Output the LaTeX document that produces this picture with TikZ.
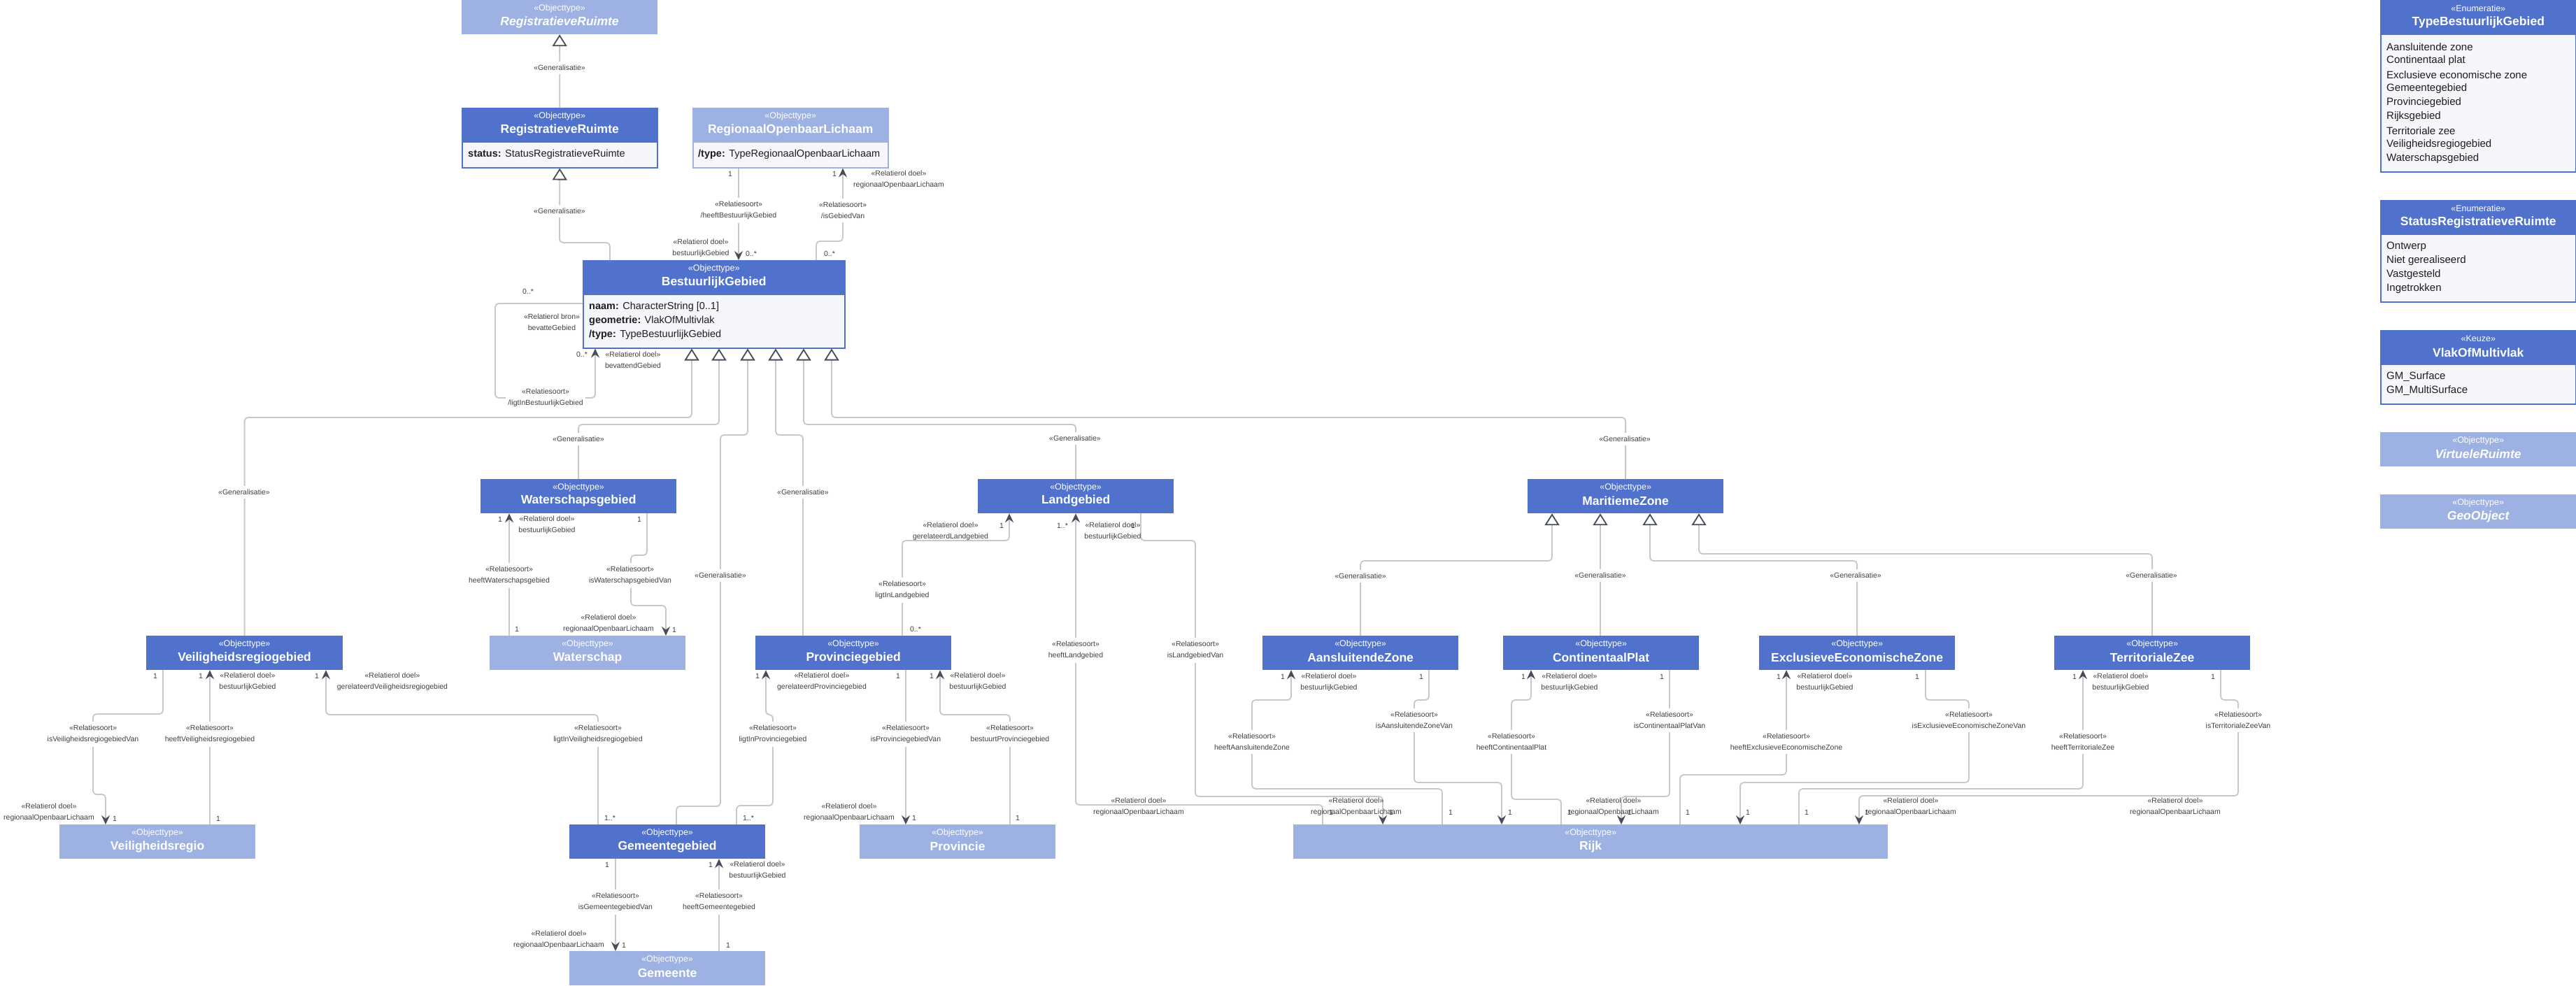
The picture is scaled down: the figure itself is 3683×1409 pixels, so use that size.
\documentclass[tikz,border=0pt]{standalone}
\usepackage{fontspec}
\setmainfont{Liberation Sans}
\usetikzlibrary{arrows.meta}
\definecolor{hdr}{HTML}{5072CC}
\definecolor{lt}{HTML}{9DB1E3}
\definecolor{bodyc}{HTML}{F4F6FC}
\definecolor{linec}{HTML}{C8C8C8}
\definecolor{tipc}{HTML}{474D5B}
\definecolor{lblc}{HTML}{404040}
\definecolor{attc}{HTML}{1E1E1E}
\newcommand\lblfont{\fontsize{10.5pt}{16pt}\selectfont}
\newcommand\stfont{\fontsize{12.5pt}{15pt}\selectfont}
\newcommand\ttlfont{\fontsize{17.5pt}{21pt}\selectfont\bfseries}
\newcommand\attfont{\fontsize{14.5pt}{20pt}\selectfont}
\newcommand\enfont{\fontsize{15pt}{20pt}\selectfont}
% simple box: name, style, x1, y1, width, stereotype, title
\newcommand\obox[7]{%
  \node[#2, anchor=north west, minimum width=#5pt, minimum height=48pt] (#1) at (#3,#4) {};
  \node[sttext] (#1-s) at ([yshift=-12.5pt]#1.north) {#6};
  \node[tttext] (#1-t) at ([yshift=-31.5pt]#1.north) {#7};
}
% box with body: name, headerstyle, bodystyle, x1, y1, width, height, headerheight, stereotype, title
\newcommand\abox[9]{%
  \node[#3, anchor=north west, minimum width=#6pt, minimum height=#7pt] (#1) at (#4,#5) {};
  \node[#2, anchor=north west, minimum width=#6pt, minimum height=49pt] (#1-h) at (#1.north west) {};
  \node[sttext] (#1-s) at ([yshift=-12.5pt]#1.north) {#8};
  \node[tttext] (#1-t) at ([yshift=-32pt]#1.north) {#9};
}
\begin{document}
\begin{tikzpicture}[x=1pt,y=-1pt,
  hdrbox/.style={fill=hdr, draw=hdr, line width=1.2pt, inner sep=0pt},
  ltbox/.style={fill=lt, draw=lt, line width=1.2pt, inner sep=0pt},
  bodybox/.style={fill=bodyc, draw=hdr, line width=1.5pt, inner sep=0pt},
  ltbody/.style={fill=bodyc, draw=lt, line width=1.5pt, inner sep=0pt},
  sttext/.style={font=\stfont, text=white, inner sep=0pt},
  tttext/.style={font=\ttlfont, text=white, inner sep=0pt},
  att/.style={font=\attfont, text=attc, anchor=west, inner sep=0pt},
  enit/.style={font=\enfont, text=attc, anchor=west, inner sep=0pt},
  conn/.style={draw=linec, line width=1.8pt, rounded corners=5pt},
  assoc/.style={conn, -{Stealth[length=13pt,width=12pt,inset=4.5pt,color=tipc]}},
  gen/.style={conn, -{Triangle[open,length=17pt,width=21pt,line width=1.8pt,color=tipc,fill=white]}},
  lbl/.style={font=\lblfont, text=lblc, align=center, inner sep=0pt},
  rsl/.style={lbl, fill=white, inner xsep=3pt, inner ysep=5pt},
  gl/.style={lbl, fill=white, inner xsep=3pt, inner ysep=5pt},
  mult/.style={font=\lblfont, text=lblc, inner sep=0pt}]
\useasboundingbox (0,0) rectangle (3683,1409);
\fill[white] (0,0) rectangle (3683,1409);

% ---------- boxes ----------
\obox{rra}{ltbox}{660}{0}{279}{«Objecttype»}{\itshape RegistratieveRuimte}
\abox{rr}{hdrbox}{bodybox}{660}{154}{279}{85}{«Objecttype»}{RegistratieveRuimte}
\node[att] (rr-a1) at (669,221) {\textbf{status:} StatusRegistratieveRuimte};
\abox{rol}{ltbox}{ltbody}{990}{154}{279}{85}{«Objecttype»}{RegionaalOpenbaarLichaam}
\node[att] (rol-a1) at (998,221) {\textbf{/type:} TypeRegionaalOpenbaarLichaam};
\abox{bg}{hdrbox}{bodybox}{833}{372}{374}{125}{«Objecttype»}{BestuurlijkGebied}
\node[att] (bg-a1) at (842,439) {\textbf{naam:} CharacterString [0..1]};
\node[att] (bg-a2) at (842,459) {\textbf{geometrie:} VlakOfMultivlak};
\node[att] (bg-a3) at (842,479) {\textbf{/type:} TypeBestuurlijkGebied};

\obox{wsg}{hdrbox}{687}{685}{279}{«Objecttype»}{Waterschapsgebied}
\obox{lg}{hdrbox}{1398}{685}{279}{«Objecttype»}{Landgebied}
\obox{mz}{hdrbox}{2184}{685}{279}{«Objecttype»}{MaritiemeZone}
\obox{vrg}{hdrbox}{209}{909}{280}{«Objecttype»}{Veiligheidsregiogebied}
\obox{ws}{ltbox}{700}{909}{279}{«Objecttype»}{Waterschap}
\obox{pg}{hdrbox}{1080}{909}{279}{«Objecttype»}{Provinciegebied}
\obox{az}{hdrbox}{1805}{909}{279}{«Objecttype»}{AansluitendeZone}
\obox{cp}{hdrbox}{2149}{909}{279}{«Objecttype»}{ContinentaalPlat}
\obox{eez}{hdrbox}{2515}{909}{279}{«Objecttype»}{ExclusieveEconomischeZone}
\obox{tz}{hdrbox}{2937}{909}{279}{«Objecttype»}{TerritorialeZee}
\obox{vr}{ltbox}{85}{1179}{279}{«Objecttype»}{Veiligheidsregio}
\obox{gg}{hdrbox}{814}{1179}{279}{«Objecttype»}{Gemeentegebied}
\obox{prov}{ltbox}{1229}{1179}{279}{«Objecttype»}{Provincie}
\obox{rijk}{ltbox}{1849}{1179}{849}{«Objecttype»}{Rijk}
\obox{gem}{ltbox}{814}{1360}{279}{«Objecttype»}{Gemeente}

% right column
\abox{tbg}{hdrbox}{bodybox}{3403}{0}{279}{245}{«Enumeratie»}{TypeBestuurlijkGebied}
\node[enit] (tbg-1) at (3412,67) {Aansluitende zone};
\node[enit] (tbg-2) at (3412,87) {Continentaal plat};
\node[enit] (tbg-3) at (3412,107) {Exclusieve economische zone};
\node[enit] (tbg-4) at (3412,127) {Gemeentegebied};
\node[enit] (tbg-5) at (3412,147) {Provinciegebied};
\node[enit] (tbg-6) at (3412,167) {Rijksgebied};
\node[enit] (tbg-7) at (3412,187) {Territoriale zee};
\node[enit] (tbg-8) at (3412,207) {Veiligheidsregiogebied};
\node[enit] (tbg-9) at (3412,227) {Waterschapsgebied};
\abox{srr}{hdrbox}{bodybox}{3403}{286}{279}{145}{«Enumeratie»}{StatusRegistratieveRuimte}
\node[enit] (srr-1) at (3412,353) {Ontwerp};
\node[enit] (srr-2) at (3412,373) {Niet gerealiseerd};
\node[enit] (srr-3) at (3412,393) {Vastgesteld};
\node[enit] (srr-4) at (3412,413) {Ingetrokken};
\abox{vom}{hdrbox}{bodybox}{3403}{472}{279}{105}{«Keuze»}{VlakOfMultivlak}
\node[enit] (vom-1) at (3412,539) {GM\_Surface};
\node[enit] (vom-2) at (3412,559) {GM\_MultiSurface};
\obox{virt}{ltbox}{3403}{618}{279}{«Objecttype»}{\itshape VirtueleRuimte}
\obox{geo}{ltbox}{3403}{707}{279}{«Objecttype»}{\itshape GeoObject}

% ---------- connectors ----------
\draw[gen] (rr.north) -- (rra.south);
\draw[gen] (bg.north -| 872,0) |- (800,347) -- (rr.south);
\draw[assoc] (rol.south -| 1056,0) -- (bg.north -| 1056,0);
\draw[assoc] (bg.north -| 1167,0) |- (1205,345) -- (rol.south -| 1205,0);
\draw[assoc] (bg.west |- 0,434) -- (708,434) |- (851,569) -- (bg.south -| 851,0);

\draw[gen] (vrg.north) |- (989,597) -- (bg.south -| 989,0);
\draw[gen] (wsg.north) |- (1028,607) -- (bg.south -| 1028,0);
\draw[gen] (gg.north -| 967,0) |- (1030,1153) -- (1030,622) -| (bg.south -| 1069,0);
\draw[gen] (pg.north -| 1148,0) |- (1109,622) -- (bg.south -| 1109,0);
\draw[gen] (lg.north) |- (1149,607) -- (bg.south -| 1149,0);
\draw[gen] (mz.north) |- (1189,597) -- (bg.south -| 1189,0);

\draw[gen] (az.north) |- (2219,802) -- (mz.south -| 2219,0);
\draw[gen] (cp.north -| 2288,0) -- (mz.south -| 2288,0);
\draw[gen] (eez.north) |- (2359,802) -- (mz.south -| 2359,0);
\draw[gen] (tz.north) |- (2429,792) -- (mz.south -| 2429,0);

\draw[assoc] (ws.north -| 728,0) -- (wsg.south -| 728,0);
\draw[assoc] (wsg.south -| 925,0) |- (902,794) |- (952,866) -- (ws.north -| 952,0);

\draw[assoc] (vrg.south -| 233,0) |- (133,1021) |- (151,1136) -- (vr.north -| 151,0);
\draw[assoc] (vr.north -| 300,0) -- (vrg.south -| 300,0);
\draw[assoc] (gg.north -| 855,0) |- (466,1022) -- (vrg.south -| 466,0);

\draw[assoc] (gg.south -| 880,0) -- (gem.north -| 880,0);
\draw[assoc] (gem.north -| 1028,0) -- (gg.south -| 1028,0);

\draw[assoc] (gg.north -| 1053,0) |- (1105,1152) |- (1095,1022) -- (pg.south -| 1095,0);
\draw[assoc] (pg.south -| 1295,0) -- (prov.north -| 1295,0);
\draw[assoc] (prov.north -| 1444,0) |- (1344,1022) -- (pg.south -| 1344,0);

\draw[assoc] (pg.north -| 1290,0) |- (1443,773) -- (lg.south -| 1443,0);
\draw[assoc] (rijk.north -| 1891,0) |- (1538,1151) -- (lg.south -| 1538,0);
\draw[assoc] (lg.south -| 1631,0) |- (1709,773) |- (1977,1139) -- (rijk.north -| 1977,0);

\draw[assoc] (rijk.north -| 2062,0) |- (1790,1128) |- (1846,1001) -- (az.south -| 1846,0);
\draw[assoc] (az.south -| 2043,0) |- (2022,1001) |- (2147,1119) -- (rijk.north -| 2147,0);
\draw[assoc] (rijk.north -| 2232,0) |- (2161,1143) |- (2189,1001) -- (cp.south -| 2189,0);
\draw[assoc] (cp.south -| 2387,0) |- (2318,1139) -- (rijk.north -| 2318,0);
\draw[assoc] (rijk.north -| 2402,0) |- (2554,1108) -- (eez.south -| 2554,0);
\draw[assoc] (eez.south -| 2753,0) |- (2815,1001) |- (2488,1119) -- (rijk.north -| 2488,0);
\draw[assoc] (rijk.north -| 2572,0) |- (2978,1128) -- (tz.south -| 2978,0);
\draw[assoc] (tz.south -| 3175,0) |- (3200,1001) |- (2658,1138) -- (rijk.north -| 2658,0);

% ---------- labels ----------
\node[gl] (g1) at (800,97) {«Generalisatie»};
\node[gl] (g2) at (800,302) {«Generalisatie»};
\node[gl] (g3) at (349,704) {«Generalisatie»};
\node[gl] (g4) at (827,628) {«Generalisatie»};
\node[gl] (g5) at (1030,823) {«Generalisatie»};
\node[gl] (g6) at (1148,704) {«Generalisatie»};
\node[gl] (g7) at (1537,627) {«Generalisatie»};
\node[gl] (g8) at (2323,628) {«Generalisatie»};
\node[gl] (g9) at (1945,824) {«Generalisatie»};
\node[gl] (g10) at (2288,823) {«Generalisatie»};
\node[gl] (g11) at (2653,823) {«Generalisatie»};
\node[gl] (g12) at (3076,823) {«Generalisatie»};

\node[mult] (m1) at (1044,249) {1};
\node[rsl] (r1) at (1056,301) {«Relatiesoort»\\/heeftBestuurlijkGebied};
\node[lbl] (d1) at (1002,355) {«Relatierol doel»\\bestuurlijkGebied};
\node[mult] (m2) at (1074,363) {0..*};
\node[mult] (m3) at (1193,249) {1};
\node[lbl] (d2) at (1285,257) {«Relatierol doel»\\regionaalOpenbaarLichaam};
\node[rsl] (r2) at (1205,301) {«Relatiesoort»\\/isGebiedVan};
\node[mult] (m4) at (1186,363) {0..*};

\node[mult] (m5) at (755,417) {0..*};
\node[lbl] (d3) at (789,461) {«Relatierol bron»\\bevatteGebied};
\node[mult] (m6) at (832,507) {0..*};
\node[lbl] (d4) at (905,515) {«Relatierol doel»\\bevattendGebied};
\node[rsl] (r3) at (780,569) {«Relatiesoort»\\/ligtInBestuurlijkGebied};

\node[mult] (m7) at (715,743) {1};
\node[lbl] (d5) at (782,751) {«Relatierol doel»\\bestuurlijkGebied};
\node[rsl] (r4) at (728,823) {«Relatiesoort»\\heeftWaterschapsgebied};
\node[mult] (m8) at (739,900) {1};
\node[mult] (m9) at (914,743) {1};
\node[rsl] (r5) at (901,823) {«Relatiesoort»\\isWaterschapsgebiedVan};
\node[lbl] (d6) at (870,892) {«Relatierol doel»\\regionaalOpenbaarLichaam};
\node[mult] (m10) at (964,901) {1};

\node[mult] (m11) at (222,967) {1};
\node[rsl] (r6) at (133,1050) {«Relatiesoort»\\isVeiligheidsregiogebiedVan};
\node[lbl] (d7) at (70,1162) {«Relatierol doel»\\regionaalOpenbaarLichaam};
\node[mult] (m12) at (164,1171) {1};
\node[mult] (m13) at (287,967) {1};
\node[lbl] (d8) at (354,975) {«Relatierol doel»\\bestuurlijkGebied};
\node[rsl] (r7) at (300,1050) {«Relatiesoort»\\heeftVeiligheidsregiogebied};
\node[mult] (m14) at (312,1171) {1};
\node[mult] (m15) at (453,967) {1};
\node[lbl] (d9) at (561,975) {«Relatierol doel»\\gerelateerdVeiligheidsregiogebied};
\node[rsl] (r8) at (855,1050) {«Relatiesoort»\\ligtInVeiligheidsregiogebied};
\node[mult] (m16) at (872,1170) {1..*};

\node[mult] (m17) at (868,1237) {1};
\node[rsl] (r9) at (880,1290) {«Relatiesoort»\\isGemeentegebiedVan};
\node[lbl] (d10) at (799,1344) {«Relatierol doel»\\regionaalOpenbaarLichaam};
\node[mult] (m18) at (892,1352) {1};
\node[mult] (m19) at (1016,1237) {1};
\node[lbl] (d11) at (1083,1245) {«Relatierol doel»\\bestuurlijkGebied};
\node[rsl] (r10) at (1028,1290) {«Relatiesoort»\\heeftGemeentegebied};
\node[mult] (m20) at (1041,1352) {1};

\node[mult] (m21) at (1083,967) {1};
\node[lbl] (d12) at (1175,975) {«Relatierol doel»\\gerelateerdProvinciegebied};
\node[rsl] (r11) at (1105,1050) {«Relatiesoort»\\ligtInProvinciegebied};
\node[mult] (m22) at (1070,1170) {1..*};
\node[mult] (m23) at (1284,967) {1};
\node[rsl] (r12) at (1295,1050) {«Relatiesoort»\\isProvinciegebiedVan};
\node[lbl] (d13) at (1214,1162) {«Relatierol doel»\\regionaalOpenbaarLichaam};
\node[mult] (m24) at (1307,1170) {1};
\node[mult] (m25) at (1332,967) {1};
\node[lbl] (d14) at (1398,975) {«Relatierol doel»\\bestuurlijkGebied};
\node[rsl] (r13) at (1444,1050) {«Relatiesoort»\\bestuurtProvinciegebied};
\node[mult] (m26) at (1455,1170) {1};

\node[lbl] (d15) at (1359,760) {«Relatierol doel»\\gerelateerdLandgebied};
\node[mult] (m27) at (1432,752) {1};
\node[rsl] (r14) at (1290,844) {«Relatiesoort»\\ligtInLandgebied};
\node[mult] (m28) at (1309,900) {0..*};
\node[mult] (m29) at (1519,752) {1..*};
\node[lbl] (d16) at (1591,760) {«Relatierol doel»\\bestuurlijkGebied};
\node[rsl] (r15) at (1538,930) {«Relatiesoort»\\heeftLandgebied};
\node[mult] (m30) at (1903,1162) {1};
\node[mult] (m31) at (1620,752) {1};
\node[rsl] (r16) at (1709,930) {«Relatiesoort»\\isLandgebiedVan};
\node[lbl] (d17) at (1628,1154) {«Relatierol doel»\\regionaalOpenbaarLichaam};
\node[mult] (m32) at (1989,1162) {1};

\node[mult] (m33) at (1834,968) {1};
\node[lbl] (d18) at (1900,976) {«Relatierol doel»\\bestuurlijkGebied};
\node[rsl] (r17) at (1790,1061) {«Relatiesoort»\\heeftAansluitendeZone};
\node[mult] (m34) at (2074,1162) {1};
\node[mult] (m35) at (2032,968) {1};
\node[rsl] (r18) at (2022,1030) {«Relatiesoort»\\isAansluitendeZoneVan};
\node[lbl] (d19) at (1939,1154) {«Relatierol doel»\\regionaalOpenbaarLichaam};
\node[mult] (m36) at (2159,1162) {1};

\node[mult] (m37) at (2178,968) {1};
\node[lbl] (d20) at (2244,976) {«Relatierol doel»\\bestuurlijkGebied};
\node[rsl] (r19) at (2161,1061) {«Relatiesoort»\\heeftContinentaalPlat};
\node[mult] (m38) at (2244,1162) {1};
\node[mult] (m39) at (2376,968) {1};
\node[rsl] (r20) at (2387,1030) {«Relatiesoort»\\isContinentaalPlatVan};
\node[lbl] (d21) at (2307,1154) {«Relatierol doel»\\regionaalOpenbaarLichaam};
\node[mult] (m40) at (2330,1162) {1};

\node[mult] (m41) at (2543,968) {1};
\node[lbl] (d22) at (2609,976) {«Relatierol doel»\\bestuurlijkGebied};
\node[rsl] (r21) at (2554,1061) {«Relatiesoort»\\heeftExclusieveEconomischeZone};
\node[mult] (m42) at (2413,1162) {1};
\node[mult] (m43) at (2741,968) {1};
\node[rsl] (r22) at (2815,1030) {«Relatiesoort»\\isExclusieveEconomischeZoneVan};
\node[lbl] (d23) at (2732,1154) {«Relatierol doel»\\regionaalOpenbaarLichaam};
\node[mult] (m44) at (2499,1162) {1};

\node[mult] (m45) at (2966,968) {1};
\node[lbl] (d24) at (3032,976) {«Relatierol doel»\\bestuurlijkGebied};
\node[rsl] (r23) at (2978,1061) {«Relatiesoort»\\heeftTerritorialeZee};
\node[mult] (m46) at (2583,1162) {1};
\node[mult] (m47) at (3164,968) {1};
\node[rsl] (r24) at (3200,1030) {«Relatiesoort»\\isTerritorialeZeeVan};
\node[lbl] (d25) at (3110,1154) {«Relatierol doel»\\regionaalOpenbaarLichaam};
\node[mult] (m48) at (2669,1162) {1};
\end{tikzpicture}
\end{document}
